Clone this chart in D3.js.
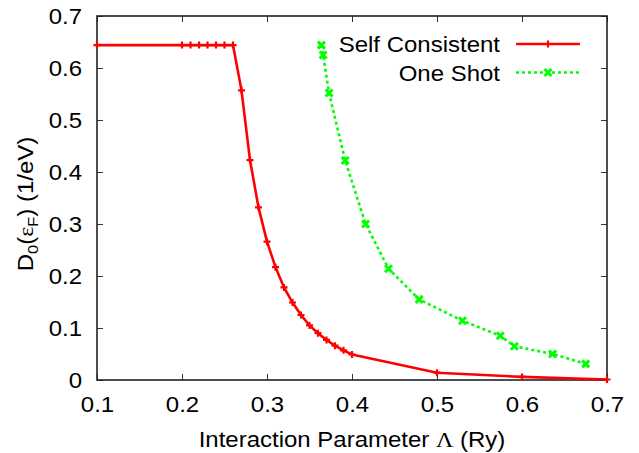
<!DOCTYPE html>
<html>
<head>
<meta charset="utf-8">
<script src="https://cdn.jsdelivr.net/npm/d3@7"></script>
<style>
  body { margin: 0; background: #fff; }
  text { font-family: "Liberation Sans", Arial, sans-serif; fill: #000; }
</style>
</head>
<body>
<div id="plot"></div>
<script>
// data
var scLambda = [0.1, 0.2, 0.21, 0.22, 0.23, 0.24, 0.25, 0.26, 0.27, 0.28, 0.29, 0.30, 0.31,
                0.32, 0.33, 0.34, 0.35, 0.36, 0.37, 0.38, 0.39, 0.40, 0.5, 0.6, 0.7];
var scDos = [0.644, 0.644, 0.644, 0.644, 0.644, 0.644, 0.644, 0.644, 0.557, 0.423, 0.332, 0.266, 0.217,
             0.178, 0.149, 0.125, 0.105, 0.090, 0.077, 0.066, 0.057, 0.049, 0.014, 0.006, 0.001];
var osLambda = [0.364, 0.366, 0.373, 0.392, 0.416, 0.443, 0.479, 0.530, 0.5745, 0.591, 0.636, 0.675];
var osDos = [0.644, 0.625, 0.552, 0.422, 0.300, 0.214, 0.155, 0.114, 0.085, 0.065, 0.050, 0.031];
var xTicks = [0.1, 0.2, 0.3, 0.4, 0.5, 0.6, 0.7];
var yTicks = [0, 0.1, 0.2, 0.3, 0.4, 0.5, 0.6, 0.7];
var seriesNames = ["Self Consistent", "One Shot"];

var W = 639, H = 453;
var margin = {top: 16, right: 32, bottom: 73, left: 97},
    width = W - margin.left - margin.right,
    height = H - margin.top - margin.bottom;

var svg = d3.select("#plot")
  .append("svg")
  .attr("width", W)
  .attr("height", H)
  .append("g")
  .attr("transform", "translate(" + margin.left + "," + margin.top + ")");

var x = d3.scaleLinear().domain([0.1, 0.7]).range([0, width]);
var y = d3.scaleLinear().domain([0, 0.7]).range([height, 0]);
var fmt = d3.format(".1f");

// axes, ticks pointing inwards like gnuplot
svg.append("g")
  .attr("class", "axis")
  .attr("transform", "translate(0," + height + ")")
  .call(d3.axisBottom(x).tickValues(xTicks).tickFormat(function(d) { return d === 0 ? "0" : fmt(d); })
        .tickSizeInner(-6).tickSizeOuter(0).tickPadding(16));
svg.append("g")
  .attr("class", "axis")
  .call(d3.axisLeft(y).tickValues(yTicks).tickFormat(function(d) { return d === 0 ? "0" : fmt(d); })
        .tickSizeInner(-6).tickSizeOuter(0).tickPadding(15));
svg.append("g")
  .attr("class", "axis mirror")
  .call(d3.axisTop(x).tickValues(xTicks).tickFormat("").tickSizeInner(-6).tickSizeOuter(0));
svg.append("g")
  .attr("class", "axis mirror")
  .attr("transform", "translate(" + width + ",0)")
  .call(d3.axisRight(y).tickValues(yTicks).tickFormat("").tickSizeInner(-6).tickSizeOuter(0));

svg.selectAll(".axis .domain").remove();
svg.selectAll(".axis line").attr("stroke", "#333").attr("stroke-width", 1);
svg.selectAll(".axis text").style("font-size", "22px").attr("fill", "#000");

svg.append("rect")
  .attr("width", width)
  .attr("height", height)
  .attr("fill", "none")
  .attr("stroke", "#222")
  .attr("stroke-width", 1.6);

// series
var red = "#ff0000", green = "#00ff00";
var sc = scLambda.map(function(d, i) { return [d, scDos[i]]; });
var os = osLambda.map(function(d, i) { return [d, osDos[i]]; });
var line = d3.line()
  .x(function(d) { return x(d[0]); })
  .y(function(d) { return y(d[1]); });

svg.append("path")
  .datum(os)
  .attr("fill", "none")
  .attr("stroke", green)
  .attr("stroke-width", 2.6)
  .attr("stroke-dasharray", "3,3")
  .attr("d", line);

svg.append("path")
  .datum(sc)
  .attr("fill", "none")
  .attr("stroke", red)
  .attr("stroke-width", 2.6)
  .attr("d", line);

function plus(g, cx, cy, s) {
  g.append("path")
    .attr("d", "M" + (cx - s) + "," + cy + "H" + (cx + s) + "M" + cx + "," + (cy - s) + "V" + (cy + s))
    .attr("stroke", red).attr("stroke-width", 2.2).attr("fill", "none");
}
function cross(g, cx, cy, s) {
  g.append("path")
    .attr("d", "M" + (cx - s) + "," + (cy - s) + "L" + (cx + s) + "," + (cy + s) +
               "M" + (cx - s) + "," + (cy + s) + "L" + (cx + s) + "," + (cy - s))
    .attr("stroke", green).attr("stroke-width", 3).attr("fill", "none");
}

var markers = svg.append("g");
sc.forEach(function(d) { plus(markers, x(d[0]), y(d[1]), 3.5); });
os.forEach(function(d) { cross(markers, x(d[0]), y(d[1]), 3.5); });

// legend
var legend = svg.append("g");
var legX = 500 - margin.left, legY = [44 - margin.top, 72.5 - margin.top];
legend.selectAll("text")
  .data(seriesNames)
  .enter().append("text")
  .attr("class", "lab")
  .attr("x", legX)
  .attr("y", function(d, i) { return legY[i] + 8; })
  .attr("text-anchor", "end")
  .style("font-size", "22px")
  .text(function(d) { return d; });
legend.append("line")
  .attr("x1", 516 - margin.left).attr("x2", 580 - margin.left)
  .attr("y1", legY[0]).attr("y2", legY[0])
  .attr("stroke", red).attr("stroke-width", 2.6);
plus(legend, 548 - margin.left, legY[0], 3.5);
legend.append("line")
  .attr("x1", 516 - margin.left).attr("x2", 580 - margin.left)
  .attr("y1", legY[1]).attr("y2", legY[1])
  .attr("stroke", green).attr("stroke-width", 2.6).attr("stroke-dasharray", "3,3");
cross(legend, 548 - margin.left, legY[1], 3.5);

// axis titles
var xt = svg.append("text")
  .attr("class", "lab")
  .attr("x", width / 2)
  .attr("y", 447 - margin.top)
  .attr("text-anchor", "middle")
  .style("font-size", "22px");
xt.append("tspan").text("Interaction Parameter ");
xt.append("tspan").style("font-family", "'Liberation Serif', serif").text("Λ");
xt.append("tspan").text(" (Ry)");

var yt = svg.append("text")
  .attr("class", "lab")
  .attr("transform", "translate(" + (33 - margin.left) + "," + (204 - margin.top) + ") rotate(-90)")
  .attr("text-anchor", "middle")
  .style("font-size", "22px");
yt.append("tspan").text("D");
yt.append("tspan").attr("dy", 5).style("font-size", "15px").text("0");
yt.append("tspan").attr("dy", -5).text("(");
yt.append("tspan").style("font-family", "'Liberation Serif', serif").text("ε");
yt.append("tspan").attr("dy", 5).style("font-size", "15px").text("F");
yt.append("tspan").attr("dy", -5).text(") (1/eV)");

// the picture's lettering is a bit wider than Arial at this height
svg.selectAll("text").each(function() {
  var len = this.getComputedTextLength();
  d3.select(this).attr("textLength", len * 1.09).attr("lengthAdjust", "spacingAndGlyphs");
});
</script>
</body>
</html>
